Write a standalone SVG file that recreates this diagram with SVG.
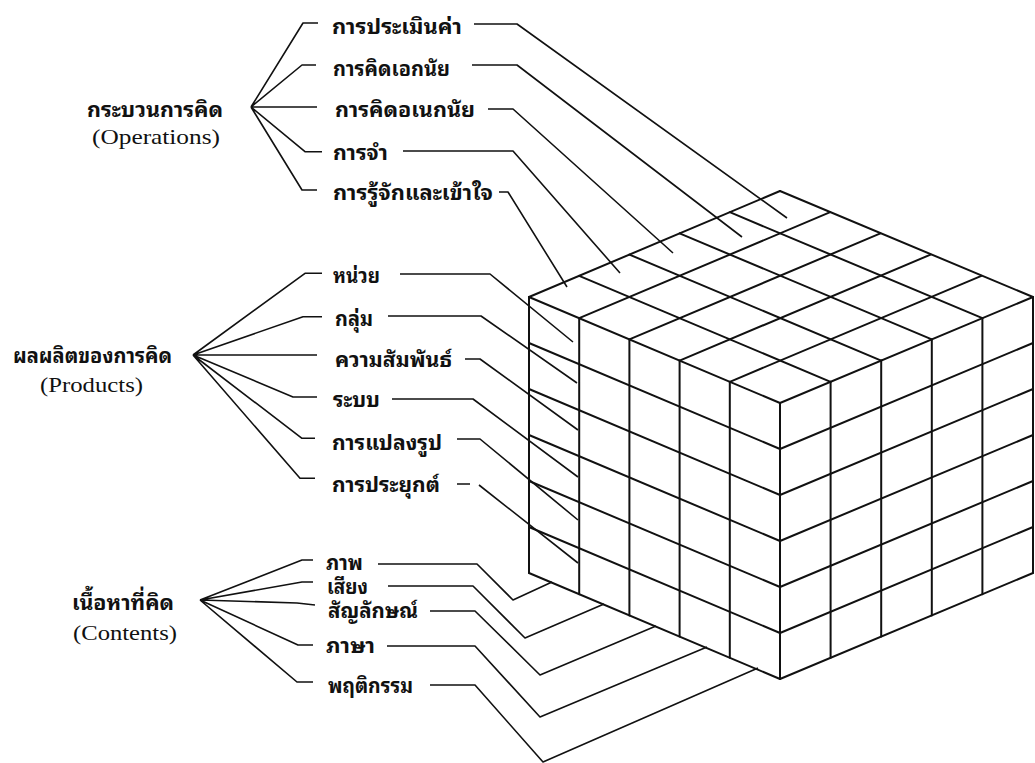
<svg xmlns="http://www.w3.org/2000/svg" width="1035" height="763" viewBox="0 0 1035 763">
<style>
.th{font-family:'Noto Sans Thai Looped','Loma','Garuda','Norasi','Noto Serif Thai','Noto Sans Thai','Noto Sans','DejaVu Sans',sans-serif;font-weight:bold;font-size:21px;fill:#111;dominant-baseline:central}
.en{font-family:'Liberation Serif','Times New Roman',serif;font-size:21px;fill:#111;dominant-baseline:central}
.grid{fill:none;stroke:#111;stroke-width:2;stroke-linecap:round;stroke-linejoin:round}
.con{fill:none;stroke:#111;stroke-width:1.6;stroke-linejoin:round}
</style>
<rect width="1035" height="763" fill="#fff"/>
<g id="cube" class="grid">
<path d="M529,297V573M579.2,318.2V594.2M629.4,339.4V615.4M679.6,360.6V636.6M729.8,381.8V657.8M780,403V679"/>
<path d="M529,297L780,403M529,343L780,449M529,389L780,495M529,435L780,541M529,481L780,587M529,527L780,633M529,573L780,679"/>
<path d="M830.6,381.8V657.8M881.2,360.6V636.6M931.8,339.4V615.4M982.4,318.2V594.2M1033,297V573"/>
<path d="M780,449L1033,343M780,495L1033,389M780,541L1033,435M780,587L1033,481M780,633L1033,527M780,679L1033,573"/>
<path d="M529,297L780,191M579.2,318.2L830.2,212.2M629.4,339.4L880.4,233.4M679.6,360.6L930.6,254.6M729.8,381.8L981.4,275.8M780,403L1033,297"/>
<path d="M579.2,275.8L830.6,381.8M629.4,254.6L881.2,360.6M679.6,233.4L931.8,339.4M729.8,212.2L982.4,318.2M780,191L1033,297"/>
</g>
<g id="connectors" class="con">
<path d="M251,107L303,23H318M251,107L302,65H316M251,107H317M251,107L305,151.7H322M251,107L302,190H317"/>
<path d="M193,355L305,273.3H322M193,355L303,316.7H322M193,355H317M193,355L293,397H317M193,355L302,438.3H315M193,355L300,478.3H315"/>
<path d="M200,600L302,560H313M200,600L302,582H313M200,600L297,603L315,605M200,600L298,645H313M200,600L297,682H313"/>
<path d="M474,24H517L787,218M472,65H517L742,237M488,109H513L673,253M403,151H513L620,273M499,192H508L567,287"/>
<path d="M400,274H490L573,342M388,316H481L577,383M465,359H480L578,430M392,399H473L578,477M457,439H480L578,520M457,484H470M479,485L578,563"/>
<path d="M378,564H477L513,600L552,582M388,586H473L525,638L604,604M430,611H475L540,675L656,626M387,646H475L540,717L707,647M430,685H475L543,762L758,668"/>
</g>
<g id="operations">
<text class="th" x="87" y="107" textLength="136" lengthAdjust="spacingAndGlyphs">กระบวนการคิด</text>
<text class="en" x="92" y="137" textLength="128" lengthAdjust="spacingAndGlyphs">(Operations)</text>
</g>
<g id="op-evaluation"><text class="th" x="332" y="24" textLength="130" lengthAdjust="spacingAndGlyphs">การประเมินค่า</text></g>
<g id="op-convergent"><text class="th" x="333" y="66" textLength="117" lengthAdjust="spacingAndGlyphs">การคิดเอกนัย</text></g>
<g id="op-divergent"><text class="th" x="335" y="107" textLength="140" lengthAdjust="spacingAndGlyphs">การคิดอเนกนัย</text></g>
<g id="op-memory"><text class="th" x="333" y="150" textLength="55" lengthAdjust="spacingAndGlyphs">การจำ</text></g>
<g id="op-cognition"><text class="th" x="333" y="190" textLength="160" lengthAdjust="spacingAndGlyphs">การรู้จักและเข้าใจ</text></g>
<g id="products">
<text class="th" x="13" y="353" textLength="159" lengthAdjust="spacingAndGlyphs">ผลผลิตของการคิด</text>
<text class="en" x="40" y="385" textLength="103" lengthAdjust="spacingAndGlyphs">(Products)</text>
</g>
<g id="pr-units"><text class="th" x="333" y="273" textLength="47" lengthAdjust="spacingAndGlyphs">หน่วย</text></g>
<g id="pr-classes"><text class="th" x="335" y="316" textLength="38" lengthAdjust="spacingAndGlyphs">กลุ่ม</text></g>
<g id="pr-relations"><text class="th" x="335" y="357" textLength="117" lengthAdjust="spacingAndGlyphs">ความสัมพันธ์</text></g>
<g id="pr-systems"><text class="th" x="333" y="397" textLength="47" lengthAdjust="spacingAndGlyphs">ระบบ</text></g>
<g id="pr-transformations"><text class="th" x="332" y="440" textLength="110" lengthAdjust="spacingAndGlyphs">การแปลงรูป</text></g>
<g id="pr-implications"><text class="th" x="332" y="482" textLength="108" lengthAdjust="spacingAndGlyphs">การประยุกต์</text></g>
<g id="contents">
<text class="th" x="72" y="600" textLength="102" lengthAdjust="spacingAndGlyphs">เนื้อหาที่คิด</text>
<text class="en" x="73" y="633" textLength="104" lengthAdjust="spacingAndGlyphs">(Contents)</text>
</g>
<g id="ct-figural"><text class="th" x="326" y="560" textLength="37" lengthAdjust="spacingAndGlyphs">ภาพ</text></g>
<g id="ct-auditory"><text class="th" x="327" y="584" textLength="41" lengthAdjust="spacingAndGlyphs">เสียง</text></g>
<g id="ct-symbolic"><text class="th" x="328" y="608" textLength="90" lengthAdjust="spacingAndGlyphs">สัญลักษณ์</text></g>
<g id="ct-semantic"><text class="th" x="326" y="643" textLength="49" lengthAdjust="spacingAndGlyphs">ภาษา</text></g>
<g id="ct-behavioral"><text class="th" x="328" y="683" textLength="85" lengthAdjust="spacingAndGlyphs">พฤติกรรม</text></g>
</svg>
